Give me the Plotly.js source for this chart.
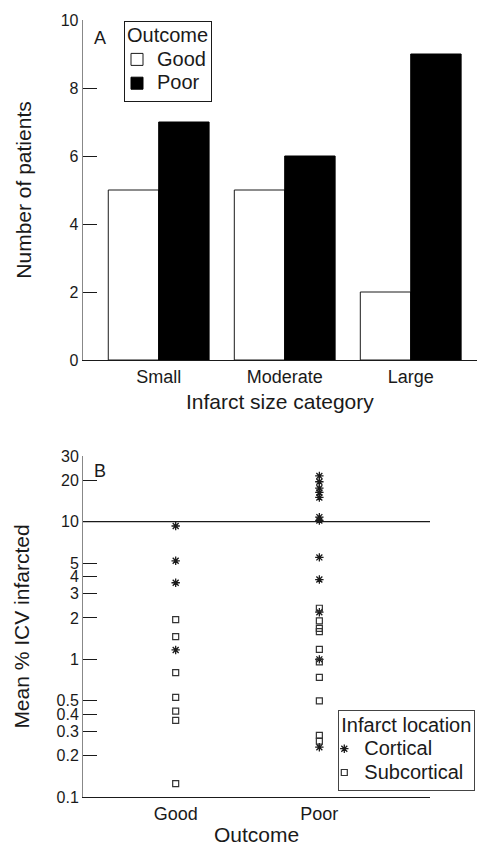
<!DOCTYPE html>
<html>
<head>
<meta charset="utf-8">
<script src="https://cdn.plot.ly/plotly-3.0.1.min.js"></script>
<style>
html,body{margin:0;padding:0;background:#fff;}
#chart{width:477px;height:846px;}
</style>
</head>
<body>
<div id="chart"></div>
<script>
// ---- Panel A data ----
const sizeCategories = ['Small', 'Moderate', 'Large'];
const outcomeNames = ['Good', 'Poor'];
const goodCounts = [5, 5, 2];
const poorCounts = [7, 6, 9];
const countTicks = [0, 2, 4, 6, 8, 10];

// ---- Panel B data ----
const outcomeCategories = ['Good', 'Poor'];
const locationNames = ['Cortical', 'Subcortical'];
const goodCortical = [9.3, 5.2, 3.6, 1.17];
const goodSubcortical = [1.94, 1.46, 0.80, 0.53, 0.42, 0.36, 0.125];
const poorCortical = [21.5, 19.5, 17.5, 16.3, 15.0, 10.8, 10.2, 5.5, 3.8, 2.2, 1.0, 0.23];
const poorSubcortical = [2.35, 1.90, 1.68, 1.59, 1.18, 0.96, 0.74, 0.50, 0.28, 0.255];
const icvTickVals = [0.1, 0.2, 0.3, 0.4, 0.5, 1, 2, 3, 4, 5, 10, 20, 30];
const icvTickText = ['0.1', '0.2', '0.3', '0.4', '0.5', '1', '2', '3', '4', '5', '10', '20', '30'];
const thresholdValue = 10;

const FONT = 'Liberation Sans, Arial, Helvetica, sans-serif';
const INK = '#1a1a1a';
const W = 477, H = 846;
const px = v => v / W;
const py = v => 1 - v / H;
const big = s => '<span style="font-size:20px">' + s + '</span>';

const corticalX = goodCortical.map(() => outcomeCategories[0]).concat(poorCortical.map(() => outcomeCategories[1]));
const corticalY = goodCortical.concat(poorCortical);
const subX = goodSubcortical.map(() => outcomeCategories[0]).concat(poorSubcortical.map(() => outcomeCategories[1]));
const subY = goodSubcortical.concat(poorSubcortical);

const traces = [
  {
    type: 'bar', name: big(outcomeNames[0]), x: sizeCategories, y: goodCounts,
    xaxis: 'x', yaxis: 'y', legend: 'legend',
    marker: {color: '#ffffff', line: {color: INK, width: 1}}
  },
  {
    type: 'bar', name: big(outcomeNames[1]), x: sizeCategories, y: poorCounts,
    xaxis: 'x', yaxis: 'y', legend: 'legend',
    marker: {color: '#000000', line: {color: '#000000', width: 1}}
  },
  {
    type: 'scatter', mode: 'markers', name: big(locationNames[0]), x: corticalX, y: corticalY,
    xaxis: 'x2', yaxis: 'y2', legend: 'legend2',
    marker: {symbol: 'asterisk-open', size: 7, color: INK, line: {color: INK, width: 1.3}}
  },
  {
    type: 'scatter', mode: 'markers', name: big(locationNames[1]), x: subX, y: subY,
    xaxis: 'x2', yaxis: 'y2', legend: 'legend2',
    marker: {symbol: 'square-open', size: 6, color: '#333', line: {color: '#333', width: 1.2}}
  }
];

const layout = {
  width: W, height: H,
  margin: {l: 0, r: 0, t: 0, b: 0, autoexpand: false},
  paper_bgcolor: '#fff', plot_bgcolor: 'rgba(0,0,0,0)',
  font: {family: FONT, color: INK, size: 17},
  barmode: 'group', bargap: 0.2, bargroupgap: 0,
  showlegend: true,
  xaxis: {
    type: 'category', domain: [px(82.7), 1], anchor: 'y',
    range: [-0.603, 2.526],
    showline: true, linecolor: INK, linewidth: 1.2,
    ticks: '', showgrid: false, zeroline: false,
    tickfont: {size: 18},
    title: {text: 'Infarct size category', font: {size: 21}, standoff: 8}
  },
  yaxis: {
    domain: [py(360), py(20)], anchor: 'x',
    range: [0, 10], tickvals: countTicks,
    showline: true, linecolor: '#888', linewidth: 1,
    ticks: 'inside', ticklen: 14, tickcolor: INK, tickwidth: 1,
    showgrid: false, zeroline: false,
    tickfont: {size: 16},
    title: {text: 'Number of patients', font: {size: 21}, standoff: 23}
  },
  xaxis2: {
    type: 'category', domain: [px(83), px(430)], anchor: 'y2',
    range: [-0.645, 1.77],
    showline: true, linecolor: INK, linewidth: 1.2,
    ticks: '', showgrid: false, zeroline: false,
    tickfont: {size: 18},
    title: {text: 'Outcome', font: {size: 21}, standoff: 17}
  },
  yaxis2: {
    type: 'log', domain: [py(797), py(456)], anchor: 'x2',
    range: [-1, Math.log10(30)],
    tickvals: icvTickVals, ticktext: icvTickText,
    showline: true, linecolor: '#888', linewidth: 1,
    ticks: 'inside', ticklen: 14, tickcolor: INK, tickwidth: 1,
    showgrid: false, zeroline: false,
    tickfont: {size: 16},
    title: {text: 'Mean % ICV infarcted', font: {size: 21}, standoff: 21}
  },
  legend: {
    x: px(124), y: py(20.7), xanchor: 'left', yanchor: 'top',
    bgcolor: '#fff', bordercolor: INK, borderwidth: 1,
    font: {size: 16}, title: {text: big('Outcome'), font: {size: 16}},
    tracegroupgap: 0, indentation: -8
  },
  legend2: {
    x: px(338.3), y: py(710), xanchor: 'left', yanchor: 'top',
    bgcolor: '#fff', bordercolor: '#444', borderwidth: 1,
    font: {size: 16}, title: {text: big('Infarct location'), font: {size: 16}},
    tracegroupgap: 0, indentation: -15
  },
  shapes: [
    {type: 'line', xref: 'x2 domain', yref: 'y2', x0: 0, x1: 1, y0: thresholdValue, y1: thresholdValue,
     line: {color: INK, width: 1.2}}
  ],
  annotations: [
    {text: 'A', xref: 'paper', yref: 'paper', x: px(100), y: py(37.5), showarrow: false,
     xanchor: 'center', yanchor: 'middle', font: {size: 18}},
    {text: 'B', xref: 'paper', yref: 'paper', x: px(100), y: py(471), showarrow: false,
     xanchor: 'center', yanchor: 'middle', font: {size: 18}}
  ]
};

Plotly.newPlot('chart', traces, layout, {displayModeBar: false, staticPlot: true});
</script>
</body>
</html>
